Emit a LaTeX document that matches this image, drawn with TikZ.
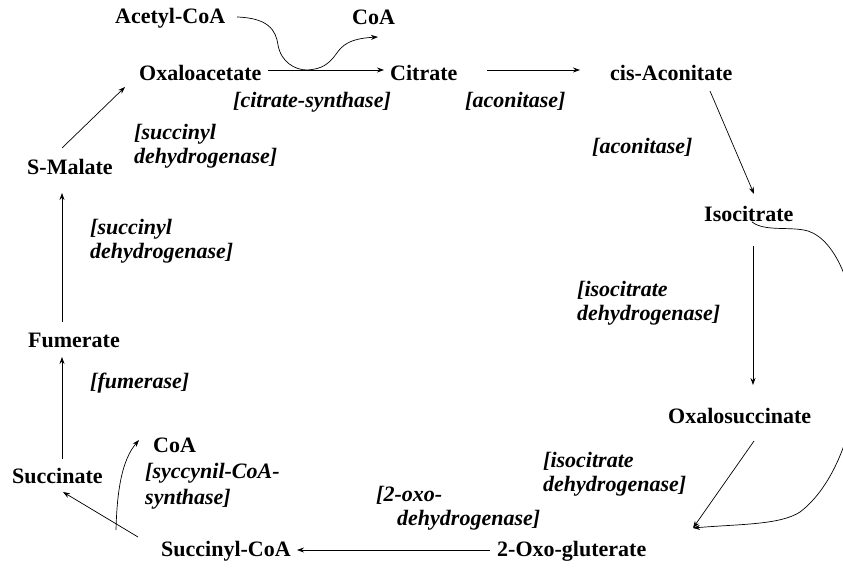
\documentclass[tikz,border=0pt]{standalone}
\usepackage{fontspec}
\setmainfont{Liberation Serif}
\usetikzlibrary{arrows.meta}
\begin{document}
\begin{tikzpicture}[x=1pt,y=-1pt,
  cpd/.style={font=\fontsize{22}{24}\selectfont\bfseries, inner sep=0pt, anchor=base west},
  enz/.style={font=\fontsize{22}{24}\selectfont\bfseries\itshape, inner sep=0pt, align=left, anchor=north west},
  enzl/.style={font=\fontsize{22}{24}\selectfont\bfseries\itshape, inner sep=0pt, anchor=base west},
  arr/.style={-{Stealth[length=7pt,width=5pt]}, line width=0.7pt}]
\useasboundingbox (0,0) rectangle (843,569);
% compounds
\node[cpd] (acetyl) at (115,24) {Acetyl-CoA};
\node[cpd] (coaT) at (352,25) {CoA};
\node[cpd] (oxalo) at (139,81) {Oxaloacetate};
\node[cpd] (citrate) at (390,81) {Citrate};
\node[cpd] (cis) at (610,81) {cis-Aconitate};
\node[cpd] (iso) at (704,222) {Isocitrate};
\node[cpd] (oxalosucc) at (668,423) {Oxalosuccinate};
\node[cpd] (oxoglut) at (497,556) {2-Oxo-gluterate};
\node[cpd] (succoa) at (161,556) {Succinyl-CoA};
\node[cpd] (coaB) at (153,452) {CoA};
\node[cpd] (succinate) at (12,483) {Succinate};
\node[cpd] (fumerate) at (28,347) {Fumerate};
\node[cpd] (smalate) at (27,175) {S-Malate};
% enzymes
\node[enzl] (citsyn) at (233,108) {[citrate-synthase]};
\node[enzl] (acon1) at (465,108) {[aconitase]};
\node[enz] (succdh1) at (134,124) {[succinyl\\dehydrogenase]};
\node[enzl] (acon2) at (592,154) {[aconitase]};
\node[enz] (succdh2) at (90,219) {[succinyl\\dehydrogenase]};
\node[enz] (isodh1) at (577,281) {[isocitrate\\dehydrogenase]};
\node[enzl] (fumerase) at (90,388) {[fumerase]};
\node[enz] (isodh2) at (543,452) {[isocitrate\\dehydrogenase]};
\node[enz] (syn) at (145,463) {[syccynil-CoA-\\[2pt]synthase]};
\node[enz] (oxo2) at (376,486) {[2-oxo-\\\hspace*{21pt}dehydrogenase]};
% connectors
\draw[arr] ([shift={(129,-11)}]oxalo.base west) -- ([shift={(-6,-11)}]citrate.base west);
\draw[arr] ([shift={(97,-11)}]citrate.base west) -- ([shift={(-30,-11)}]cis.base west);
\draw[arr] ([shift={(100,10)}]cis.base west) -- ([shift={(50,-28)}]iso.base west);
\draw[arr] ([shift={(49,24)}]iso.base west) -- ([shift={(85,-38)}]oxalosucc.base west);
\draw[arr] ([shift={(86,18)}]oxalosucc.base west) -- ([shift={(196,-28)}]oxoglut.base west);
\draw[arr] ([shift={(-7,-6)}]oxoglut.base west) -- ([shift={(136,-6)}]succoa.base west);
\draw[arr] ([shift={(-23,-19)}]succoa.base west) -- ([shift={(51,9)}]succinate.base west);
\draw[arr] ([shift={(50,-24)}]succinate.base west) -- ([shift={(34,10)}]fumerate.base west);
\draw[arr] ([shift={(34,-25)}]fumerate.base west) -- ([shift={(35,18)}]smalate.base west);
\draw[arr] ([shift={(35,-27)}]smalate.base west) -- ([shift={(-14,6)}]oxalo.base west);
% acetyl-CoA in, CoA out
\draw[arr] ([shift={(122,-7)}]acetyl.base west)
  .. controls (268,18) and (276,30) .. (278,45)
  .. controls (281,62) and (295,70) .. (307,70)
  .. controls (330,69) and (334,55) .. (341,48)
  .. controls (349,40) and (361,38) .. ([shift={(26,12)}]coaT.base west);
% isocitrate to 2-oxo-gluterate
\draw[arr] ([shift={(48,0)}]iso.base west)
  .. controls (765,232) and (790,226) .. (808,231)
  .. controls (836,240) and (858,290) .. (858,360)
  .. controls (858,430) and (832,488) .. (800,512)
  .. controls (780,525) and (740,524) .. ([shift={(196,-28)}]oxoglut.base west);
% succinyl-CoA to CoA
\draw[arr] ([shift={(-45,-26)}]succoa.base west)
  .. controls (117,490) and (122,460) .. ([shift={(-14,-12)}]coaB.base west);
\end{tikzpicture}
\end{document}
